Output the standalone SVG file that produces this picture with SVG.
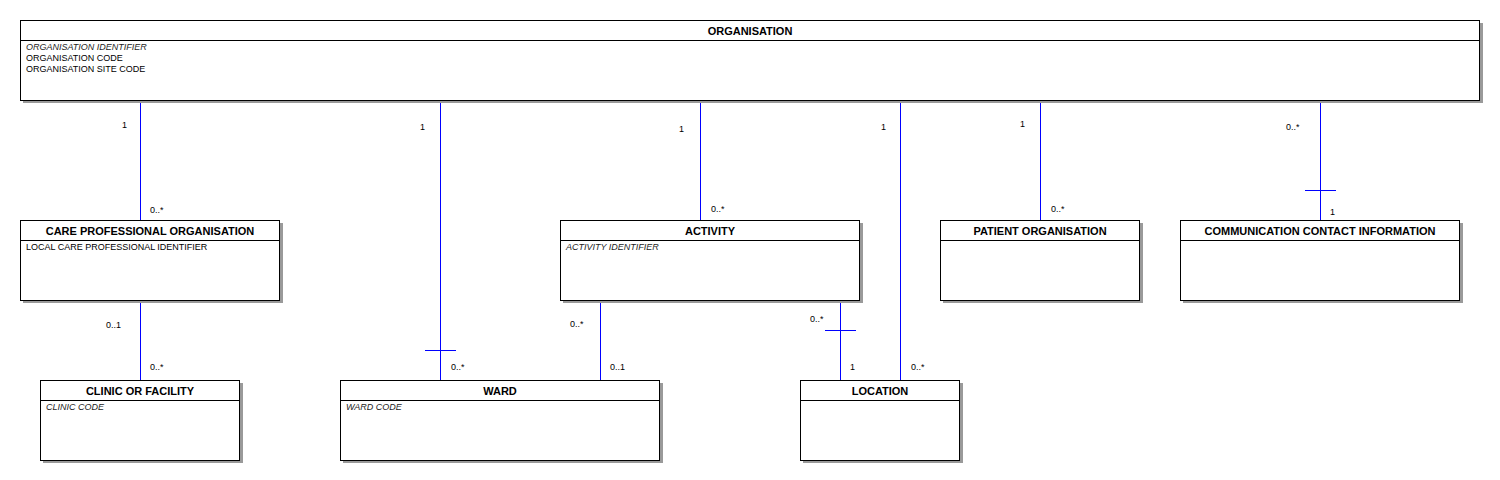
<svg xmlns="http://www.w3.org/2000/svg" width="1500" height="480" viewBox="0 0 1500 480">
<style>
.sh{fill:#9a9a9a;stroke:none}
.bx{fill:#fff;stroke:#000;stroke-width:1}
.hl{stroke:#000;stroke-width:1}
.t{font-family:"Liberation Sans",Arial,sans-serif;font-size:11px;font-weight:bold;fill:#000;text-anchor:middle}
.a{font-family:"Liberation Sans",Arial,sans-serif;font-size:9px;fill:#000}
.i{font-style:italic;fill:#222}
.c line{stroke:#0000ff;stroke-width:1}
.m{font-family:"Liberation Sans",Arial,sans-serif;font-size:9px;fill:#000}
</style>
<rect width="1500" height="480" fill="#fff"/>
<g id="connectors" class="c">
<line x1="140.5" y1="100" x2="140.5" y2="220"/>
<line x1="440.5" y1="100" x2="440.5" y2="380"/>
<line x1="425" y1="350.5" x2="456" y2="350.5"/>
<line x1="700.5" y1="100" x2="700.5" y2="220"/>
<line x1="900.5" y1="100" x2="900.5" y2="380"/>
<line x1="1040.5" y1="100" x2="1040.5" y2="220"/>
<line x1="1320.5" y1="100" x2="1320.5" y2="220"/>
<line x1="1305" y1="190.5" x2="1336" y2="190.5"/>
<line x1="140.5" y1="300" x2="140.5" y2="380"/>
<line x1="600.5" y1="300" x2="600.5" y2="380"/>
<line x1="840.5" y1="300" x2="840.5" y2="380"/>
<line x1="825" y1="330.5" x2="856" y2="330.5"/>
<text class="m" x="122" y="128">1</text>
<text class="m" x="150" y="213">0..*</text>
<text class="m" x="420" y="130">1</text>
<text class="m" x="451" y="370">0..*</text>
<text class="m" x="679" y="132">1</text>
<text class="m" x="711" y="212">0..*</text>
<text class="m" x="881" y="130">1</text>
<text class="m" x="911" y="370">0..*</text>
<text class="m" x="1020" y="127">1</text>
<text class="m" x="1051" y="212">0..*</text>
<text class="m" x="1286" y="130">0..*</text>
<text class="m" x="1330" y="215">1</text>
<text class="m" x="106" y="328">0..1</text>
<text class="m" x="150" y="370">0..*</text>
<text class="m" x="570" y="327">0..*</text>
<text class="m" x="610" y="370">0..1</text>
<text class="m" x="810" y="322">0..*</text>
<text class="m" x="850" y="370">1</text>
</g>
<g id="organisation">
<rect class="sh" x="23" y="23" width="1460" height="80"/>
<rect class="bx" x="20.5" y="20.5" width="1459" height="80"/>
<line class="hl" x1="20.5" y1="40.5" x2="1479.5" y2="40.5"/>
<text class="t" x="750" y="35">ORGANISATION</text>
<text class="a i" x="26" y="50">ORGANISATION IDENTIFIER</text>
<text class="a" x="26" y="61">ORGANISATION CODE</text>
<text class="a" x="26" y="72">ORGANISATION SITE CODE</text>
</g>
<g id="care-professional-organisation">
<rect class="sh" x="23" y="223" width="260" height="80"/>
<rect class="bx" x="20.5" y="220.5" width="259" height="80"/>
<line class="hl" x1="20.5" y1="240.5" x2="279.5" y2="240.5"/>
<text class="t" x="150" y="235">CARE PROFESSIONAL ORGANISATION</text>
<text class="a" x="26" y="250">LOCAL CARE PROFESSIONAL IDENTIFIER</text>
</g>
<g id="activity">
<rect class="sh" x="563" y="223" width="300" height="80"/>
<rect class="bx" x="560.5" y="220.5" width="299" height="80"/>
<line class="hl" x1="560.5" y1="240.5" x2="859.5" y2="240.5"/>
<text class="t" x="710" y="235">ACTIVITY</text>
<text class="a i" x="566" y="250">ACTIVITY IDENTIFIER</text>
</g>
<g id="patient-organisation">
<rect class="sh" x="943" y="223" width="200" height="80"/>
<rect class="bx" x="940.5" y="220.5" width="199" height="80"/>
<line class="hl" x1="940.5" y1="240.5" x2="1139.5" y2="240.5"/>
<text class="t" x="1040" y="235">PATIENT ORGANISATION</text>
</g>
<g id="communication-contact-information">
<rect class="sh" x="1183" y="223" width="280" height="80"/>
<rect class="bx" x="1180.5" y="220.5" width="279" height="80"/>
<line class="hl" x1="1180.5" y1="240.5" x2="1459.5" y2="240.5"/>
<text class="t" x="1320" y="235">COMMUNICATION CONTACT INFORMATION</text>
</g>
<g id="clinic-or-facility">
<rect class="sh" x="43" y="383" width="200" height="80"/>
<rect class="bx" x="40.5" y="380.5" width="199" height="80"/>
<line class="hl" x1="40.5" y1="400.5" x2="239.5" y2="400.5"/>
<text class="t" x="140" y="395">CLINIC OR FACILITY</text>
<text class="a i" x="46" y="410">CLINIC CODE</text>
</g>
<g id="ward">
<rect class="sh" x="343" y="383" width="320" height="80"/>
<rect class="bx" x="340.5" y="380.5" width="319" height="80"/>
<line class="hl" x1="340.5" y1="400.5" x2="659.5" y2="400.5"/>
<text class="t" x="500" y="395">WARD</text>
<text class="a i" x="346" y="410">WARD CODE</text>
</g>
<g id="location">
<rect class="sh" x="803" y="383" width="160" height="80"/>
<rect class="bx" x="800.5" y="380.5" width="159" height="80"/>
<line class="hl" x1="800.5" y1="400.5" x2="959.5" y2="400.5"/>
<text class="t" x="880" y="395">LOCATION</text>
</g>
</svg>
